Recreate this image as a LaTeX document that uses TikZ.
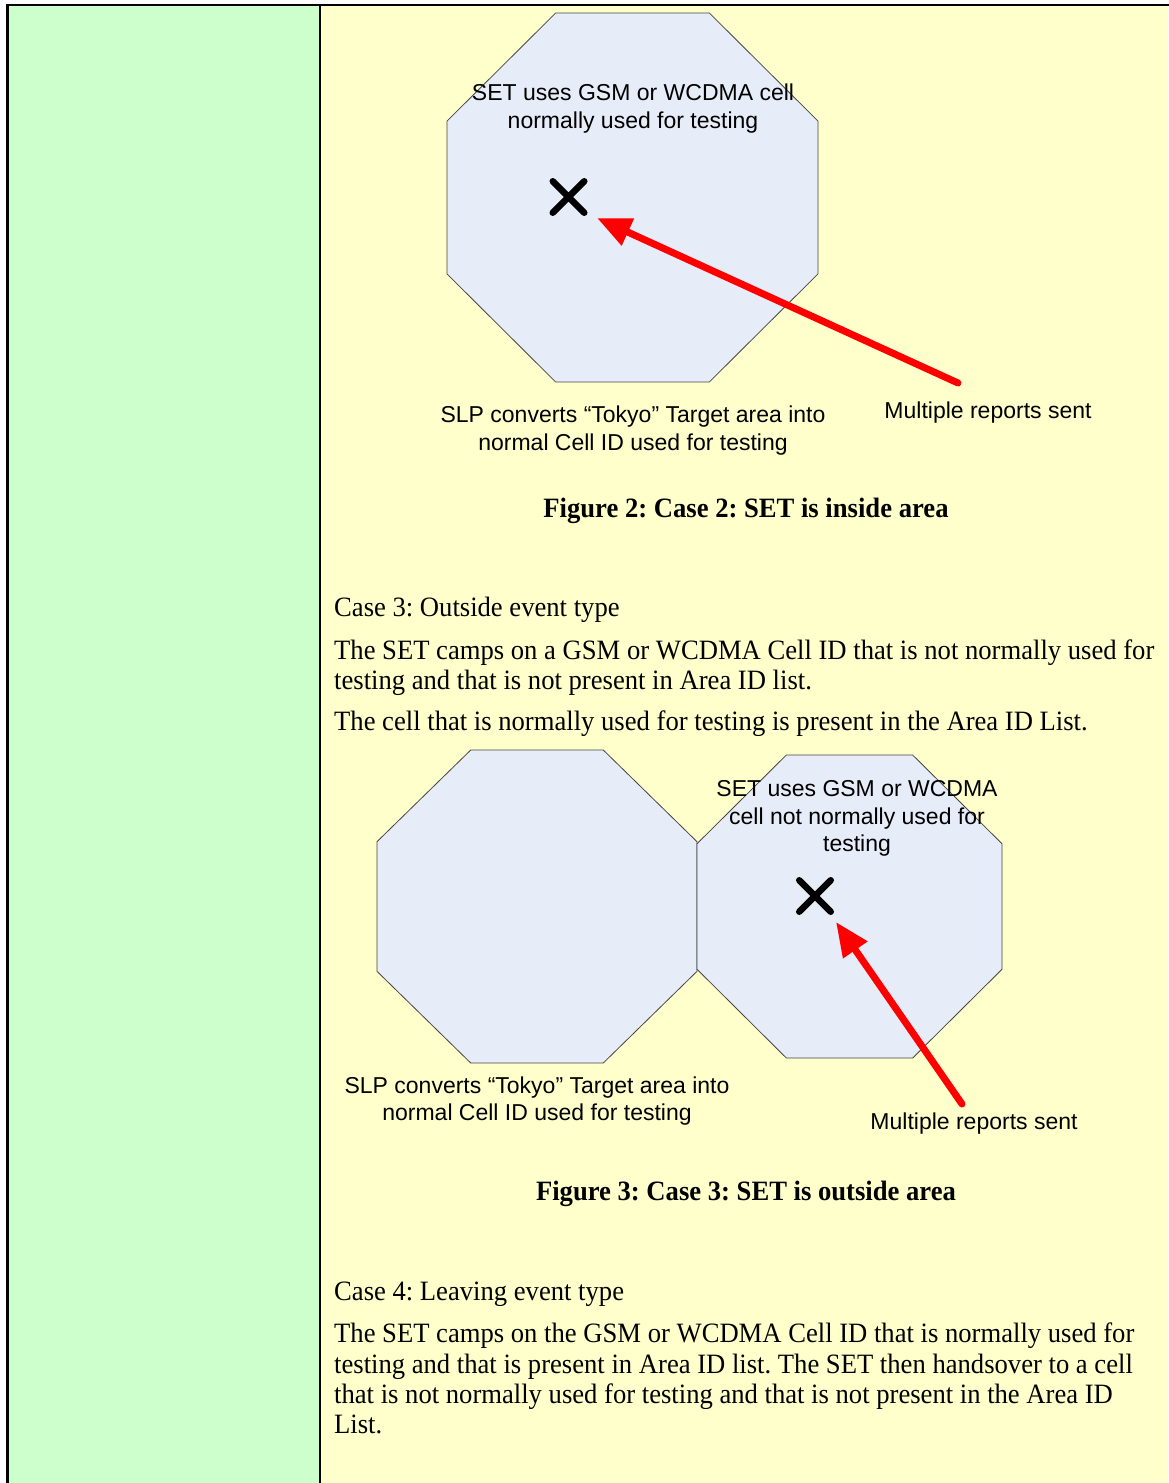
\documentclass[tikz,border=0pt]{standalone}
\usepackage{fontspec}
\setmainfont{Liberation Serif}[FakeStretch=0.951]
\newfontfamily\arialfont{Liberation Sans}
\frenchspacing
\usetikzlibrary{arrows.meta,shapes.misc}
\definecolor{cellgreen}{RGB}{204,255,204}
\definecolor{cellyellow}{RGB}{255,255,204}
\definecolor{octfill}{RGB}{230,236,248}
\definecolor{octline}{RGB}{70,70,70}
\newcommand{\octagon}[5]{% centre x, centre y, half width, half height, options
\pgfmathsetmacro{\cutx}{0.5858*#3}
\pgfmathsetmacro{\cuty}{0.5858*#4}
\draw[#5] (#1-#3,#2-#4+\cuty) -- (#1-#3+\cutx,#2-#4) -- (#1+#3-\cutx,#2-#4) -- (#1+#3,#2-#4+\cuty)
-- (#1+#3,#2+#4-\cuty) -- (#1+#3-\cutx,#2+#4) -- (#1-#3+\cutx,#2+#4) -- (#1-#3,#2+#4-\cuty) -- cycle;
}
\begin{document}
\begin{tikzpicture}[x=1pt,y=-1pt,
  cellnote/.style={font=\arialfont\fontsize{23}{28}\selectfont,inner sep=0pt,anchor=base},
  bodyline/.style={font=\fontsize{28}{30}\selectfont,inner sep=0pt,anchor=base west},
  figcaption/.style={font=\bfseries\fontsize{28}{30}\selectfont,inner sep=0pt,anchor=base},
  setcross/.style={cross out,draw,line width=6.5pt,line cap=round,minimum size=25pt,inner sep=0pt},
  reportarrow/.style={draw=red,line width=7pt,line cap=round,-{Triangle[length=34pt,width=28pt]}}]
\useasboundingbox (0,0) rectangle (1168,1483);

%%%%% table cells
\fill[cellgreen] (7.7,5) rectangle (320,1483);
\fill[cellyellow] (320,5) rectangle (1168,1483);
\draw[line width=2.5pt] (7.7,1490) -- (7.7,5) -- (1170,5);
\draw[line width=2.5pt] (320,5) -- (320,1490);

%%%%% figure 2
\octagon{632.5}{197.5}{185.5}{184.5}{octline,fill=octfill,line width=0.8pt}
\node[setcross] (cross2) at (568.5,197) {};
\node[cellnote] (settop1) at (633,100) {SET uses GSM or WCDMA cell};
\node[cellnote] (settop2) at (633,128) {normally used for testing};
\node[cellnote] (slp1) at (633,422) {SLP converts “Tokyo” Target area into};
\node[cellnote] (slp2) at (633,450) {normal Cell ID used for testing};
\node[cellnote] (reports2) at (988,418) {Multiple reports sent};
\coordinate (tail2) at (958,383);
\coordinate (tip2) at (597,218);
\draw[reportarrow] (tail2) -- (tip2);
\node[figcaption] (fig2) at (746,517) {Figure 2: Case 2: SET is inside area};

%%%%% case 3 text
\def\pos{334}
\node[bodyline] (case3) at (\pos,616) {Case 3: Outside event type};
\node[bodyline] (case3a) at (\pos,659) {The SET camps on a GSM or WCDMA Cell ID that is not normally used for};
\node[bodyline] (case3b) at (\pos,689) {testing and that is not present in Area ID list.};
\node[bodyline] (case3c) at (\pos,730) {The cell that is normally used for testing is present in the Area ID List.};

%%%%% figure 3
\octagon{537}{906.5}{160}{156.5}{octline,fill=octfill,line width=0.8pt}
\octagon{849.5}{906.5}{152.5}{151.5}{octline,fill=octfill,line width=0.8pt}
\node[setcross] (cross3) at (815,896) {};
\node[cellnote] (setout1) at (857,796) {SET uses GSM or WCDMA};
\node[cellnote] (setout2) at (857,824) {cell not normally used for};
\node[cellnote] (setout3) at (857,851) {testing};
\node[cellnote] (slp3) at (537,1093) {SLP converts “Tokyo” Target area into};
\node[cellnote] (slp4) at (537,1120) {normal Cell ID used for testing};
\node[cellnote] (reports3) at (974,1129) {Multiple reports sent};
\coordinate (tail3) at (962,1104);
\coordinate (tip3) at (836,922);
\draw[reportarrow] (tail3) -- (tip3);
\node[figcaption] (fig3) at (746,1200) {Figure 3: Case 3: SET is outside area};

%%%%% case 4 text
\node[bodyline] (case4) at (\pos,1300) {Case 4: Leaving event type};
\node[bodyline] (case4a) at (\pos,1342) {The SET camps on the GSM or WCDMA Cell ID that is normally used for};
\node[bodyline] (case4b) at (\pos,1373) {testing and that is present in Area ID list. The SET then handsover to a cell};
\node[bodyline] (case4c) at (\pos,1403) {that is not normally used for testing and that is not present in the Area ID};
\node[bodyline] (case4d) at (\pos,1433) {List.};
\end{tikzpicture}
\end{document}
